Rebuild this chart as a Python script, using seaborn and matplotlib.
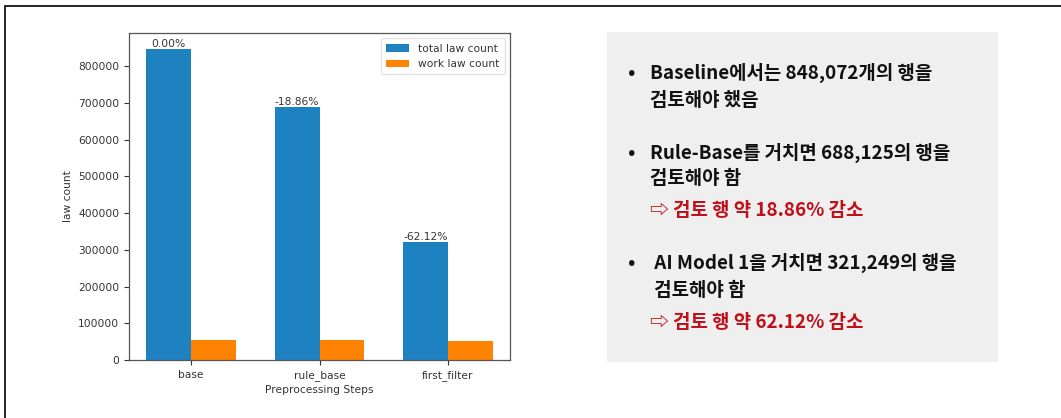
import matplotlib
matplotlib.use("Agg")
import matplotlib.pyplot as plt
import pandas as pd
import seaborn as sns
from matplotlib.patches import Rectangle

steps = ["base", "rule_base", "first_filter"]
total_counts = [848072, 688125, 321249]
work_counts = [54500, 54800, 52600]
pct_labels = ["0.00%", "-18.86%", "-62.12%"]
series_names = ["total law count", "work law count"]

notes = [
    ("Baseline에서는 848,072개의 행을", "검토해야 했음", None),
    ("Rule-Base를 거치면 688,125의 행을", "검토해야 함", "⇨ 검토 행 약 18.86% 감소"),
    (" AI Model 1을 거치면 321,249의 행을", " 검토해야 함", "⇨ 검토 행 약 62.12% 감소"),
]

sns.set_theme(style="white")
plt.rcParams["font.family"] = ["DejaVu Sans"]

W, H = 1061, 418
fig = plt.figure(figsize=(W / 100, H / 100), dpi=100)

# slide frame
fig.patches.append(Rectangle((5 / W, -0.1), 1.2, 1 - 6 / H + 0.1, transform=fig.transFigure,
                             fill=False, edgecolor="black", linewidth=1.2))

df = pd.DataFrame({
    "step": steps * 2,
    "count": total_counts + work_counts,
    "series": [series_names[0]] * 3 + [series_names[1]] * 3,
})

ax = fig.add_axes([129 / W, 1 - 360 / H, (510 - 129) / W, (360 - 33) / H])
sns.barplot(data=df, x="step", y="count", hue="series", order=steps,
            palette=["#1f82c0", "#ff8200"], saturation=1, width=0.7,
            linewidth=0, ax=ax, errorbar=None)
ax.set_xlim(-0.485, 2.485)
ax.set_ylim(0, max(total_counts) * 1.05)
ax.ticklabel_format(axis="y", style="plain")
ax.tick_params(axis="both", labelsize=7.7, colors="#333333", length=3.5, width=0.8,
               bottom=True, left=True)
ax.set_xlabel("Preprocessing Steps", fontsize=7.7, color="#333333", labelpad=3)
ax.set_ylabel("law count", fontsize=7.7, color="#333333", labelpad=4)
for s in ax.spines.values():
    s.set_color("#555555")
    s.set_linewidth(0.9)

for i, (v, lab) in enumerate(zip(total_counts, pct_labels)):
    ax.text(i - 0.175, v, lab, ha="center", va="bottom", fontsize=7.7, color="#333333")

leg = ax.legend(loc="upper right", fontsize=7.7, frameon=True, handlelength=2.2,
                borderpad=0.5, labelspacing=0.5)
leg.get_frame().set_edgecolor("#dddddd")
for t in leg.get_texts():
    t.set_color("#333333")

# text panel on the right
fig.patches.append(Rectangle((607 / W, 1 - 362 / H), (998 - 607) / W, (362 - 32) / H,
                             transform=fig.transFigure, facecolor="#efefef", edgecolor="none"))

kr = ["Noto Sans CJK KR", "DejaVu Sans"]
line_rows = [(73, 100, None), (153, 178, 211), (263, 290, 322)]
for (l1, l2, red), (y1, y2, y3) in zip(notes, line_rows):
    fig.text(632 / W, 1 - y1 / H, "•", fontsize=16, ha="center", va="center",
             family=kr, color="#111111")
    fig.text(650 / W, 1 - y1 / H, l1, fontsize=13.6, ha="left", va="center",
             family=kr, weight="bold", color="#111111")
    fig.text(650 / W, 1 - y2 / H, l2, fontsize=13.6, ha="left", va="center",
             family=kr, weight="bold", color="#111111")
    if red:
        fig.text(650 / W, 1 - y3 / H, red, fontsize=13.6, ha="left", va="center",
                 family=kr, weight="bold", color="#c0101a")

fig.savefig("out.png", dpi=100)
